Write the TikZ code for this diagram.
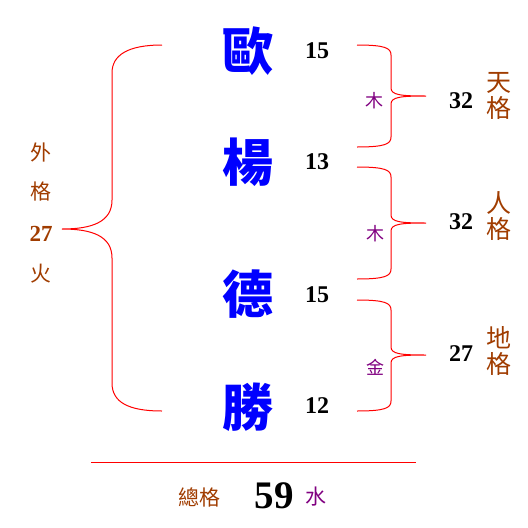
\documentclass[tikz,border=0pt]{standalone}
\usepackage{fontspec}
\usetikzlibrary{calc}
\newfontfamily\cjk{Noto Sans CJK TC}
\newfontfamily\numf{Liberation Serif}
\definecolor{nameblue}{RGB}{0,0,255}
\definecolor{brred}{RGB}{255,0,0}
\definecolor{wxpurple}{RGB}{128,0,128}
\definecolor{gebrown}{RGB}{160,60,0}
\begin{document}
\begin{tikzpicture}[x=1pt,y=-1pt,
  bigch/.style={font=\cjk\fontsize{51}{51}\selectfont\bfseries, text=nameblue, inner sep=0pt},
  stroke/.style={font=\numf\fontsize{24}{24}\selectfont\bfseries, text=black, inner sep=0pt},
  wx/.style={font=\cjk\fontsize{18}{18}\selectfont, text=wxpurple, inner sep=0pt},
  ge/.style={font=\cjk\fontsize{25}{26}\selectfont, text=gebrown, inner sep=0pt, align=center},
  gel/.style={font=\cjk\fontsize{21}{21}\selectfont, text=gebrown, inner sep=0pt},
  genum/.style={font=\numf\fontsize{23}{23}\selectfont\bfseries, text=gebrown, inner sep=0pt},
  brace/.style={draw=brred, line width=1pt}]
\useasboundingbox (0,0) rectangle (528,528);
% name characters
\node[bigch] (c1) at (248,51) {歐};
\node[bigch] (c2) at (248,162) {楊};
\node[bigch] (c3) at (248,294) {德};
\node[bigch] (c4) at (248,407) {勝};
% stroke counts
\node[stroke] (n1) at (317,51) {15};
\node[stroke] (n2) at (317,162) {13};
\node[stroke] (n3) at (317,295) {15};
\node[stroke] (n4) at (317,406) {12};
% right braces
\coordinate (a1) at (357,45); \coordinate (t1) at (426,96); \coordinate (b1) at (357,147);
\coordinate (a2) at (357,167); \coordinate (t2) at (426,223); \coordinate (b2) at (357,279);
\coordinate (a3) at (357,300); \coordinate (t3) at (426,355); \coordinate (b3) at (357,411);
\foreach \i in {1,2,3}{
  \draw[brace] (a\i) .. controls ($(a\i)+(28,0)$) and ($(a\i)+(34,3)$) .. ($(a\i)+(34,10)$)
    -- ($(t\i)+(-35,-8)$) .. controls ($(t\i)+(-35,-1)$) and ($(t\i)+(-25,0)$) .. (t\i)
    .. controls ($(t\i)+(-25,0)$) and ($(t\i)+(-35,1)$) .. ($(t\i)+(-35,8)$)
    -- ($(b\i)+(34,-10)$) .. controls ($(b\i)+(34,-3)$) and ($(b\i)+(28,0)$) .. (b\i);
}
% left brace
\coordinate (la) at (162,45); \coordinate (lt) at (62,229); \coordinate (lb) at (162,411);
\draw[brace] (la) .. controls (128,45) and (112,55) .. (112,73) -- (112,200)
  .. controls (112,222) and (92,229) .. (lt)
  .. controls (92,229) and (112,236) .. (112,258) -- (112,383)
  .. controls (112,402) and (128,411) .. (lb);
% five-element labels
\node[wx] (w1) at (374,101) {木};
\node[wx] (w2) at (375,234) {木};
\node[wx] (w3) at (375,367) {金};
% right sums
\node[stroke] (s1) at (461,101) {32};
\node[stroke] (s2) at (461,222) {32};
\node[stroke] (s3) at (461,354) {27};
\node[ge] (g1) at (499,96) {天\\格};
\node[ge] (g2) at (499,216) {人\\格};
\node[ge] (g3) at (499,351) {地\\格};
% outer
\node[gel] (o1) at (41,152) {外};
\node[gel] (o2) at (41,192) {格};
\node[genum] (o3) at (41,234) {27};
\node[gel] (o4) at (41,274) {火};
% total
\coordinate (r1) at (91,462); \coordinate (r2) at (416,462);
\draw[brace] (r1) -- (r2);
\node[gel] (tg) at (199,497) {總格};
\node[font=\numf\fontsize{39}{39}\selectfont\bfseries, inner sep=0pt] (tn) at (274,496) {59};
\node[wx, font=\cjk\fontsize{21}{21}\selectfont] (tw) at (316,497) {水};
\end{tikzpicture}
\end{document}
